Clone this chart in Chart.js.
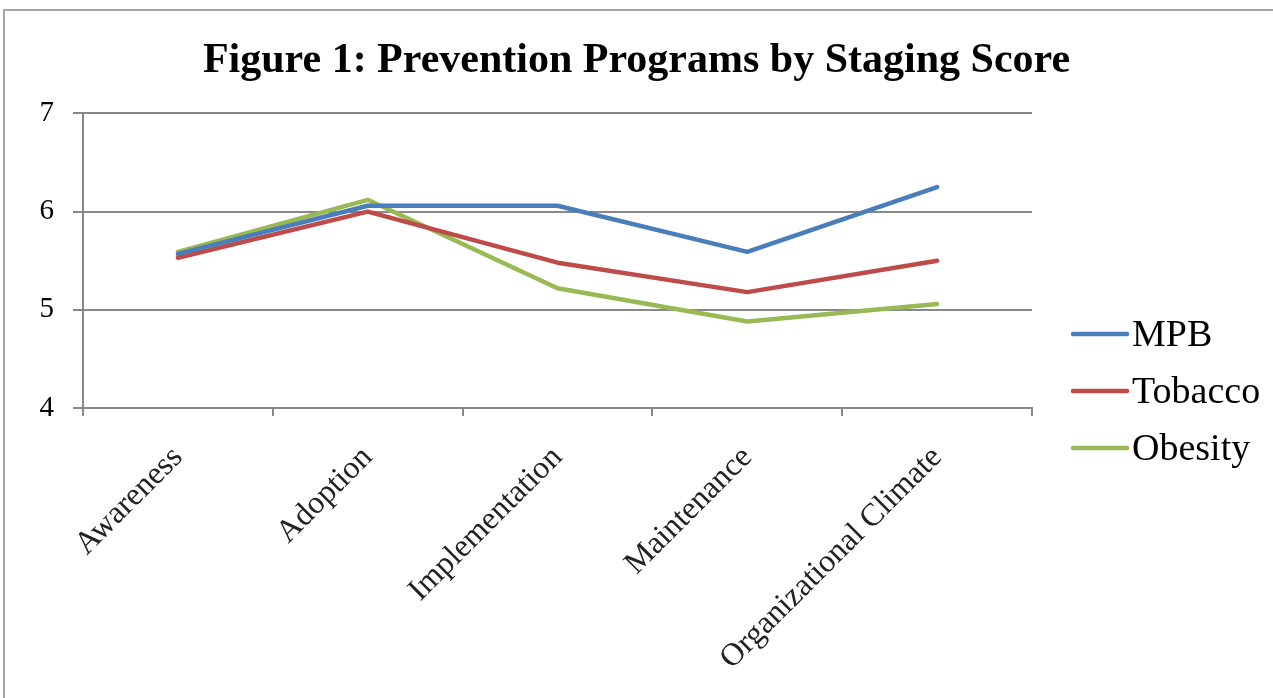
<!DOCTYPE html>
<html>
<head>
<meta charset="utf-8">
<script src="https://cdn.jsdelivr.net/npm/chart.js@4"></script>
<style>
  html, body { margin: 0; padding: 0; background: #fff; }
  #wrap { width: 1273px; height: 698px; position: relative; }
</style>
</head>
<body>
<div id="wrap"><canvas id="chart" width="1273" height="698"></canvas></div>
<script>
// Figure 1: Prevention Programs by Staging Score

const categories = ["Awareness", "Adoption", "Implementation", "Maintenance", "Organizational Climate"];
const seriesNames = ["MPB", "Tobacco", "Obesity"];
const mpb = [5.57, 6.06, 6.06, 5.59, 6.25];
const tobacco = [5.53, 6.00, 5.48, 5.18, 5.50];
const obesity = [5.59, 6.12, 5.22, 4.88, 5.06];
const yTicks = [4, 5, 6, 7];

const colors = ["#4a7ebb", "#be4b48", "#98b954"];
const serif = "'Liberation Serif', 'Times New Roman', serif";

// frame and legend, drawn at the right of the plot area
const extras = {
  id: "extras",
  beforeDraw(c) {
    const ctx = c.ctx;
    ctx.save();
    ctx.strokeStyle = "#a6a6a6";
    ctx.lineWidth = 2;
    ctx.strokeRect(4, 10, 1400, 900);
    ctx.restore();
  },
  afterDraw(c) {
    const ctx = c.ctx;
    const x0 = c.chartArea.right + 41;
    ctx.save();
    ctx.font = "38px " + serif;
    ctx.textBaseline = "middle";
    ctx.fillStyle = "#000";
    c.data.datasets.forEach((ds, i) => {
      const y = 334 + i * 57;
      ctx.strokeStyle = ds.borderColor;
      ctx.lineWidth = 4.5;
      ctx.lineCap = "round";
      ctx.beginPath();
      ctx.moveTo(x0, y);
      ctx.lineTo(x0 + 54, y);
      ctx.stroke();
      ctx.fillText(ds.label, x0 + 59, y + 2);
    });
    ctx.restore();
  }
};

new Chart(document.getElementById("chart"), {
  type: "line",
  data: {
    labels: categories,
    datasets: [mpb, tobacco, obesity].map((d, i) => ({
      label: seriesNames[i],
      data: d,
      borderColor: colors[i],
      backgroundColor: colors[i],
      borderWidth: 4.5,
      pointRadius: 0,
      tension: 0,
      borderCapStyle: "round",
      borderJoinStyle: "round"
    }))
  },
  options: {
    responsive: false,
    animation: false,
    layout: { padding: 0 },
    plugins: {
      legend: { display: false },
      tooltip: { enabled: false },
      title: {
        display: true,
        text: "Figure 1: Prevention Programs by Staging Score",
        color: "#000",
        font: { family: serif, size: 42, weight: "bold" },
        padding: { top: 36, bottom: 27 }
      }
    },
    scales: {
      x: {
        offset: true,
        grid: { offset: true, drawOnChartArea: false, drawTicks: true, tickLength: 8, color: "#888", lineWidth: 2 },
        border: { color: "#888", width: 2 },
        ticks: { color: "#222", font: { family: serif, size: 32 }, minRotation: 45, maxRotation: 45, padding: 23 },
        afterFit: s => { s.height = 290; }
      },
      y: {
        min: 4,
        max: 7,
        afterBuildTicks: s => { s.ticks = yTicks.map(v => ({ value: v })); },
        grid: { color: "#888", lineWidth: 2, tickLength: 10 },
        border: { color: "#888", width: 2 },
        ticks: { color: "#000", font: { family: serif, size: 29 }, padding: 19 },
        afterFit: s => { s.width = 83; }
      },
      spacer: {
        position: "right",
        display: true,
        grid: { display: false },
        border: { display: false },
        ticks: { display: false },
        afterFit: s => { s.width = 241; }
      }
    }
  },
  plugins: [extras]
});
</script>
</body>
</html>
